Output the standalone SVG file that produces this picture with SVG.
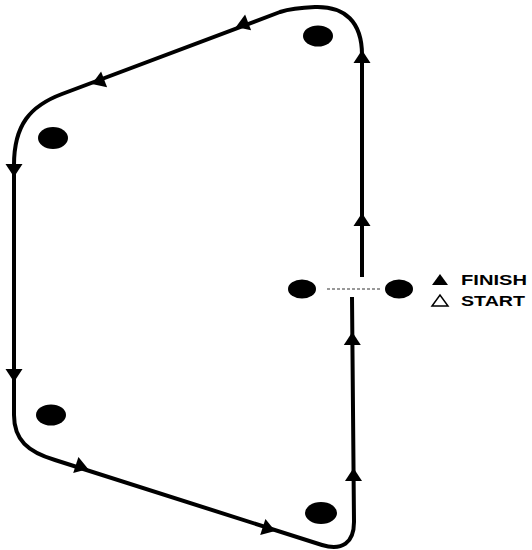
<svg xmlns="http://www.w3.org/2000/svg" width="532" height="550" viewBox="0 0 532 550">
<style>
.route{fill:none;stroke:#000;stroke-width:4;stroke-linejoin:round}
.gate{fill:none;stroke:#333;stroke-width:1.2;stroke-dasharray:3 2}
.dot{fill:#000}
.lbl{font-family:"Liberation Sans",Arial,sans-serif;font-weight:bold;font-size:15px;fill:#000}
</style>
<defs>
<polygon id="ah" points="6.5,0 -6.5,-8.5 -6.5,8.5" fill="#000"/>
</defs>
<rect width="532" height="550" fill="#fff"/>
<g id="connectors">
<path class="route" d="M362 277 L362 55 C362 22 345 6 315 7 C302 7.5 292 8 280 12 L62 94 C30 106 14 125 14 165 L14 415 C14 440 28 452 55 460 L322 545 C342 551 354 543 354 522 L352 297"/>
<line class="gate" x1="327" y1="289" x2="381" y2="289"/>
<use href="#ah" transform="translate(362,56.5) rotate(-90)"/>
<use href="#ah" transform="translate(362,219.5) rotate(-90)"/>
<use href="#ah" transform="translate(242,24.7) rotate(159.4)"/>
<use href="#ah" transform="translate(98,81.7) rotate(159.4)"/>
<use href="#ah" transform="translate(14,170.5) rotate(90)"/>
<use href="#ah" transform="translate(14,375.5) rotate(90)"/>
<use href="#ah" transform="translate(82,467) rotate(17.8)"/>
<use href="#ah" transform="translate(269,529) rotate(17.8)"/>
<use href="#ah" transform="translate(352.3,338.5) rotate(-90)"/>
<use href="#ah" transform="translate(353.5,474.5) rotate(-90)"/>
</g>
<g id="cone-top-right"><ellipse class="dot" cx="318" cy="36" rx="15" ry="10.5"/></g>
<g id="cone-top-left"><ellipse class="dot" cx="53" cy="138" rx="15" ry="11"/></g>
<g id="cone-bottom-left"><ellipse class="dot" cx="51" cy="415" rx="15" ry="10.5"/></g>
<g id="cone-bottom-right"><ellipse class="dot" cx="321" cy="513" rx="16" ry="11"/></g>
<g id="gate-left"><ellipse class="dot" cx="302" cy="289" rx="14" ry="9.5"/></g>
<g id="gate-right"><ellipse class="dot" cx="399" cy="289" rx="14" ry="9.5"/></g>
<g id="legend">
<polygon points="432,285 448,285 440,274" fill="#000"/>
<text class="lbl" x="461" y="284.5" textLength="66" lengthAdjust="spacingAndGlyphs">FINISH</text>
<polygon points="432,306 448,306 440,295" fill="none" stroke="#000" stroke-width="1.5"/>
<text class="lbl" x="461" y="305.5" textLength="64" lengthAdjust="spacingAndGlyphs">START</text>
</g>
</svg>
